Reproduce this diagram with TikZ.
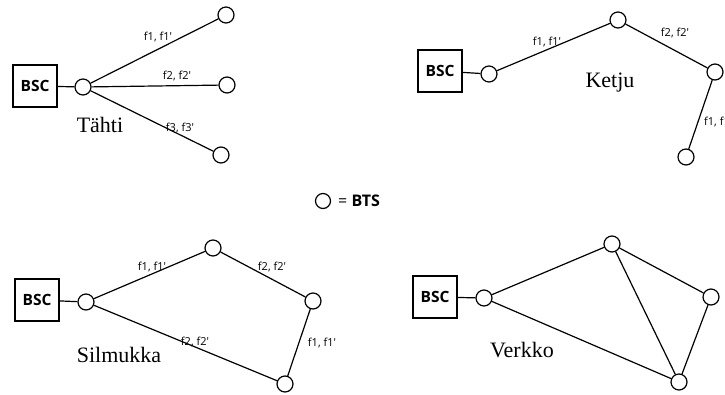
\documentclass[tikz,border=0pt]{standalone}
\usepackage{fontspec}
\setmainfont{Liberation Serif}
\newfontfamily\osans{Open Sans}
\begin{document}
\begin{tikzpicture}[x=1pt,y=-1pt,
  bsc/.style={draw, line width=2pt, minimum width=44pt, minimum height=42pt, inner sep=0pt, font=\osans\bfseries\fontsize{15.5}{15.5}\selectfont},
  bts/.style={draw, circle, line width=1.2pt, minimum size=16pt, inner sep=0pt},
  link/.style={line width=1.2pt},
  lbl/.style={font=\osans\fontsize{11}{11}\selectfont, inner sep=0pt},
  ttl/.style={font=\fontsize{22}{22}\selectfont, inner sep=0pt}]
\useasboundingbox (0,0) rectangle (725,394);
\clip (0,0) rectangle (725,394);
% Tahti
\node[bsc] (tb) at (35,86) {BSC};
\node[bts] (t0) at (83,87) {};
\node[bts] (t1) at (226,15) {};
\node[bts] (t2) at (227,85) {};
\node[bts] (t3) at (221,155) {};
\draw[link] (tb) -- (t0);
\draw[link] (t0) -- (t1);
\draw[link] (t0) -- (t2);
\draw[link] (t0) -- (t3);
\node[lbl] (tl1) at (158,37) {f1, f1'};
\node[lbl] (tl2) at (177,76) {f2, f2'};
\node[lbl] (tl3) at (180,128) {f3, f3'};
\node[ttl] (tt) at (100,125) {Tähti};
% Ketju
\node[bsc] (kb) at (440,71) {BSC};
\node[bts] (k0) at (489,74) {};
\node[bts] (k1) at (618,20) {};
\node[bts] (k2) at (715,72) {};
\node[bts] (k3) at (686,157) {};
\draw[link] (kb) -- (k0);
\draw[link] (k0) -- (k1);
\draw[link] (k1) -- (k2);
\draw[link] (k2) -- (k3);
\node[lbl] (kl1) at (547,42) {f1, f1'};
\node[lbl] (kl2) at (675,33) {f2, f2'};
\node[lbl, anchor=west] (kl3) at (704,122) {f1, f1'};
\node[ttl] (kt) at (610,83) {Ketju};
% legend
\node[bts, minimum size=15pt] (lc) at (323,201) {};
\node[font=\osans\fontsize{16}{16}\selectfont, anchor=west, inner sep=0pt] (lt) at (338,201) {= \textbf{BTS}};
% Silmukka
\node[bsc] (sb) at (37,300) {BSC};
\node[bts] (s0) at (86,302) {};
\node[bts] (s1) at (213,248) {};
\node[bts] (s2) at (313,301) {};
\node[bts] (s3) at (285,384) {};
\draw[link] (sb) -- (s0);
\draw[link] (s0) -- (s1);
\draw[link] (s1) -- (s2);
\draw[link] (s2) -- (s3);
\draw[link] (s0) -- (s3);
\node[lbl] (sl1) at (152,267) {f1, f1'};
\node[lbl] (sl2) at (272,267) {f2, f2'};
\node[lbl] (sl3) at (195,342) {f2, f2'};
\node[lbl] (sl4) at (322,343) {f1, f1'};
\node[ttl] (st) at (119,355) {Silmukka};
% Verkko
\node[bsc] (vb) at (435,297) {BSC};
\node[bts] (v0) at (484,298) {};
\node[bts] (v1) at (612,244) {};
\node[bts] (v2) at (711,297) {};
\node[bts] (v3) at (679,382) {};
\draw[link] (vb) -- (v0);
\draw[link] (v0) -- (v1);
\draw[link] (v1) -- (v2);
\draw[link] (v2) -- (v3);
\draw[link] (v0) -- (v3);
\draw[link] (v1) -- (v3);
\node[ttl] (vt) at (522,350) {Verkko};
\end{tikzpicture}
\end{document}
